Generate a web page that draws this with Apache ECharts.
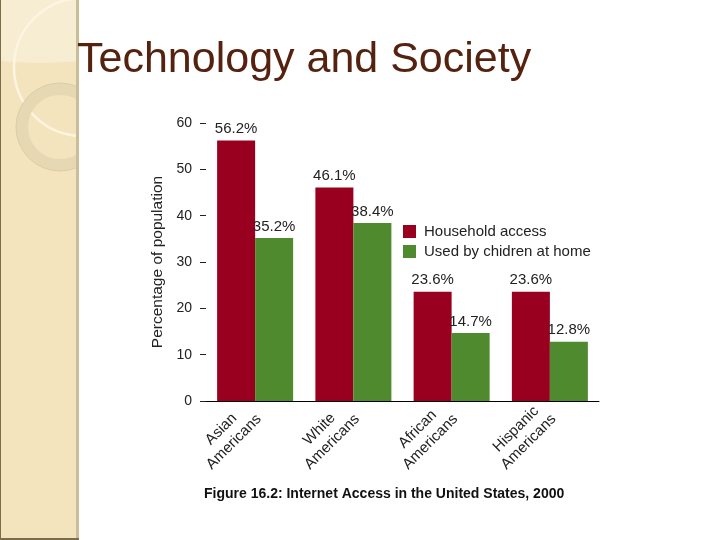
<!DOCTYPE html>
<html>
<head>
<meta charset="utf-8">
<script src="https://cdn.jsdelivr.net/npm/echarts@6/dist/echarts.min.js"></script>
<style>
  html, body { margin: 0; padding: 0; background: #fff; }
  #main { width: 720px; height: 540px; }
</style>
</head>
<body>
<div id="main"></div>
<script>
// groups along the x axis
var categories = ['Asian\nAmericans', 'White\nAmericans', 'African\nAmericans', 'Hispanic\nAmericans'];
var householdAccess = [56.2, 46.1, 23.6, 23.6];
var childrenAtHome = [35.2, 38.4, 14.7, 12.8];
var yTicks = [0, 10, 20, 30, 40, 50, 60];

var chart = echarts.init(document.getElementById('main'), null, {renderer: 'canvas'});

var labelFont = "'Liberation Sans', Arial, sans-serif";

var option = {
    backgroundColor: '#ffffff',
    animation: false,
    title: {
        text: 'Technology and Society',
        left: 72,
        top: 34,
        textStyle: {
            fontFamily: labelFont,
            fontSize: 43,
            fontWeight: 'normal',
            color: '#55220f'
        }
    },
    legend: {
        orient: 'vertical',
        left: 398,
        top: 219,
        itemWidth: 13,
        itemHeight: 13,
        itemGap: 5,
        icon: 'rect',
        textStyle: {fontFamily: labelFont, fontSize: 15, color: '#222', padding: [0, 0, 0, 3]},
        data: ['Household access', 'Used by chidren at home']
    },
    grid: {left: 206, right: 121, top: 123, bottom: 139},
    xAxis: {
        type: 'category',
        data: categories,
        axisLine: {show: true, lineStyle: {color: '#000', width: 1}},
        axisTick: {show: false},
        axisLabel: {
            interval: 0,
            rotate: 45,
            margin: 7,
            // centre the two lines inside a fixed-width box
            formatter: function (v) {
                return v.split('\n').map(function (s) { return '{c|' + s + '}'; }).join('\n');
            },
            rich: {
                c: {
                    width: 78,
                    align: 'center',
                    fontFamily: labelFont,
                    fontSize: 15,
                    lineHeight: 18,
                    color: '#222'
                }
            }
        }
    },
    yAxis: {
        type: 'value',
        min: yTicks[0],
        max: yTicks[yTicks.length - 1],
        interval: 10,
        name: 'Percentage of population',
        nameLocation: 'middle',
        nameGap: 38,
        nameTextStyle: {fontFamily: labelFont, fontSize: 15.5, color: '#222'},
        axisLine: {show: false},
        axisTick: {show: true, length: 6, lineStyle: {color: '#222'}},
        splitLine: {show: false},
        axisLabel: {fontFamily: labelFont, fontSize: 14, color: '#222', margin: 14}
    },
    series: [
        {
            name: 'Household access',
            type: 'bar',
            data: householdAccess,
            barWidth: 38,
            barGap: '0%',
            itemStyle: {color: '#990020'},
            label: {
                show: true, position: 'top', distance: 4,
                formatter: '{c}%',
                fontFamily: labelFont, fontSize: 15, color: '#222'
            }
        },
        {
            name: 'Used by chidren at home',
            type: 'bar',
            data: childrenAtHome,
            barWidth: 38,
            itemStyle: {color: '#4f8a2e'},
            label: {
                show: true, position: 'top', distance: 4,
                formatter: '{c}%',
                fontFamily: labelFont, fontSize: 15, color: '#222'
            }
        }
    ],
    graphic: [
        // beige side panel
        {type: 'rect', z: -10, shape: {x: 0, y: 0, width: 78, height: 540},
         style: {fill: '#f3e4bd'}},
        {type: 'circle', z: -9, shape: {cx: 40, cy: -300, r: 363},
         style: {fill: '#f7edd3'}},
        {type: 'circle', z: -8, shape: {cx: 83, cy: 67, r: 69},
         style: {fill: 'none', stroke: '#fcf5e2', lineWidth: 2.5}},
        {type: 'circle', z: -8, shape: {cx: 60, cy: 127, r: 38},
         style: {fill: 'none', stroke: '#e6d8b3', lineWidth: 12}},
        {type: 'circle', z: -8, shape: {cx: 60, cy: 127, r: 44},
         style: {fill: 'none', stroke: '#ddcda5', lineWidth: 1}},
        // white mask to cut the decoration at the panel edge
        {type: 'rect', z: -7, shape: {x: 78, y: 0, width: 642, height: 540},
         style: {fill: '#ffffff'}},
        {type: 'rect', z: -6, shape: {x: 76, y: 0, width: 3, height: 540},
         style: {fill: '#cbbd97'}},
        {type: 'rect', z: -6, shape: {x: 0, y: 0, width: 1, height: 540},
         style: {fill: '#7d6c4a'}},
        {type: 'rect', z: -6, shape: {x: 0, y: 538, width: 79, height: 2},
         style: {fill: '#7d6c4a'}},
        // figure caption
        {type: 'text', left: 204, top: 487,
         style: {
             text: 'Figure 16.2: Internet Access in the United States, 2000',
             font: "bold 14px 'Liberation Sans', Arial, sans-serif",
             fill: '#111'
         }}
    ]
};

chart.setOption(option);
</script>
</body>
</html>
